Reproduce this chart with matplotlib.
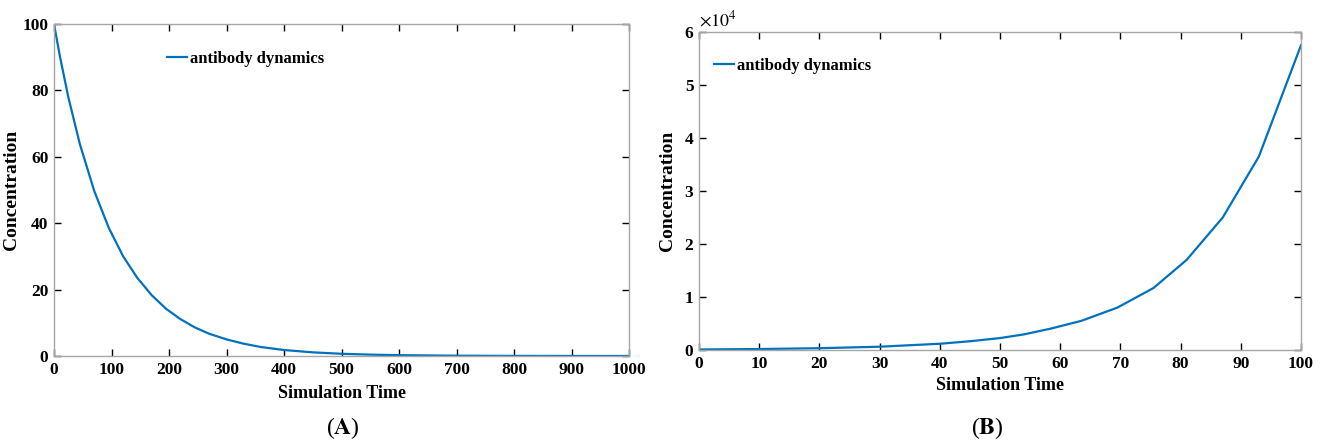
import matplotlib.pyplot as plt
import numpy as np

plt.rcParams['font.family'] = ['Liberation Serif', 'DejaVu Serif']
plt.rcParams['mathtext.fontset'] = 'stix'

# panel A: decay
tA = [0, 10, 25, 45, 70, 95, 120, 145, 170, 195, 220, 245, 270, 300, 330,
      360, 400, 450, 500, 550, 600, 700, 800, 900, 1000]
yA = [100, 90.5, 77.9, 63.8, 49.7, 38.7, 30.1, 23.5, 18.3, 14.2, 11.1, 8.6,
      6.7, 5.0, 3.7, 2.7, 1.8, 1.1, 0.67, 0.41, 0.25, 0.09, 0.03, 0.01, 0.005]

# panel B: growth
tB = [0, 10, 20, 30, 40, 45, 50, 54, 58.5, 63.5, 69.5, 75.5, 81, 87, 93, 98.5, 100]
yB = [100, 180, 340, 620, 1180, 1650, 2250, 2950, 4050, 5500, 8000, 11700,
      17000, 25000, 36500, 53000, 57500]

blue = '#0072BD'
W, H = 1323, 445
fig = plt.figure(figsize=(W / 100, H / 100), dpi=100)

def style(ax):
    for s in ax.spines.values():
        s.set_color('#a6a6a6')
        s.set_linewidth(1.0)
    ax.tick_params(direction='in', length=5, width=1, color='black',
                   top=True, right=True, labelsize=12.5, pad=4)
    for lab in ax.get_xticklabels() + ax.get_yticklabels():
        lab.set_fontweight('bold')

axA = fig.add_axes([54 / W, 1 - 356 / H, 575 / W, 332 / H])
axA.plot(tA, yA, color=blue, lw=1.6, label='antibody dynamics')
axA.set_xlim(0, 1000)
axA.set_ylim(0, 100)
axA.set_xticks(np.arange(0, 1001, 100))
axA.set_yticks(np.arange(0, 101, 20))
style(axA)
axA.set_xlabel('Simulation Time', fontsize=13, fontweight='bold', labelpad=5)
axA.set_ylabel('Concentration', fontsize=14, fontweight='bold', labelpad=2)
axA.legend(loc='upper left', bbox_to_anchor=(0.17, 0.965), frameon=False,
           handlelength=1.2, handletextpad=0.2,
           prop={'weight': 'bold', 'size': 12})

axB = fig.add_axes([699 / W, 1 - 350 / H, 602 / W, 318 / H])
axB.plot(tB, yB, color=blue, lw=1.6, label='antibody dynamics')
axB.set_xlim(0, 100)
axB.set_ylim(0, 60000)
axB.set_xticks(np.arange(0, 101, 10))
axB.set_yticks(np.arange(0, 60001, 10000))
axB.set_yticklabels([str(i) for i in range(7)])
style(axB)
axB.set_xlabel('Simulation Time', fontsize=13, fontweight='bold', labelpad=4)
axB.set_ylabel('Concentration', fontsize=14, fontweight='bold', labelpad=6)
axB.legend(loc='upper left', bbox_to_anchor=(0.0, 0.965), frameon=False,
           handlelength=1.2, handletextpad=0.2,
           prop={'weight': 'bold', 'size': 12})
axB.text(0.0, 1.005, r'$\times 10^4$', transform=axB.transAxes,
         fontsize=13, ha='left', va='bottom')

fig.text(343 / W, 1 - 434 / H, r'($\mathbf{A}$)', fontsize=17,
         ha='center', va='baseline')
fig.text(987 / W, 1 - 434 / H, r'($\mathbf{B}$)', fontsize=17,
         ha='center', va='baseline')

fig.savefig('out.png', dpi=100)
